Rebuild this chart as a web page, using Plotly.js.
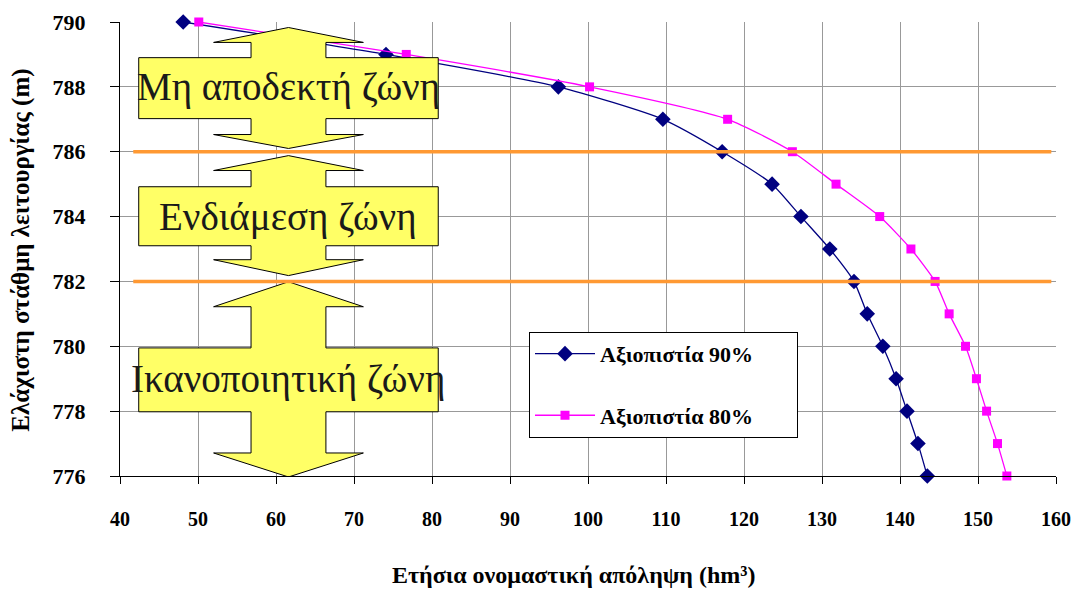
<!DOCTYPE html>
<html>
<head>
<meta charset="utf-8">
<script src="https://cdn.plot.ly/plotly-3.0.1.min.js"></script>
<style>html,body{margin:0;padding:0;background:#fff;}#chart{width:1072px;height:591px;}</style>
</head>
<body>
<div id="chart"></div>
<script>
// ---- data ----
const level = [790, 789, 788, 787, 786, 785, 784, 783, 782, 781, 780, 779, 778, 777, 776];
const rel90 = [48.1, 74.1, 96.2, 109.6, 117.2, 123.6, 127.3, 131.0, 134.1, 135.8, 137.8, 139.5, 140.9, 142.3, 143.5];
const rel80 = [50.1, 76.7, 100.2, 117.9, 126.2, 131.8, 137.4, 141.4, 144.5, 146.3, 148.4, 149.8, 151.1, 152.5, 153.7];
const seriesNames = ['Αξιοπιστία 90%', 'Αξιοπιστία 80%'];
const zoneLabels = ['Μη αποδεκτή ζώνη', 'Ενδιάμεση ζώνη', 'Ικανοποιητική ζώνη'];
const zoneLimits = [786, 782];
const xTitle = 'Ετήσια ονομαστική απόληψη (hm³)';
const yTitle = 'Ελάχιστη στάθμη λειτουργίας (m)';

// ---- arrow geometry (data units) ----
// [tipTop, headBaseTop, boxTop, boxBottom, headBaseBottom, tipBottom, labelY]
const arrowsY = [
  [789.83, 789.37, 788.90, 787.02, 786.53, 786.10, 788.0],
  [785.88, 785.42, 784.92, 783.10, 782.67, 782.18, 784.0],
  [781.99, 781.22, 779.95, 777.98, 776.71, 775.97, 779.0]
];
const cx = 61.6, headHalf = 9.6, shaftHalf = 4.8, boxHalf = 19.2;

function arrowPath(a) {
  const [t, hb1, bt, bb, hb2, b] = a;
  const p = [
    [cx, t], [cx + headHalf, hb1], [cx + shaftHalf, hb1], [cx + shaftHalf, bt],
    [cx + boxHalf, bt], [cx + boxHalf, bb], [cx + shaftHalf, bb], [cx + shaftHalf, hb2],
    [cx + headHalf, hb2], [cx, b], [cx - headHalf, hb2], [cx - shaftHalf, hb2],
    [cx - shaftHalf, bb], [cx - boxHalf, bb], [cx - boxHalf, bt], [cx - shaftHalf, bt],
    [cx - shaftHalf, hb1], [cx - headHalf, hb1]
  ];
  return 'M ' + p.map(q => q[0] + ',' + q[1]).join(' L ') + ' Z';
}

const serif = '"Liberation Serif", "DejaVu Serif", serif';
const pad = '\u00a0'.repeat(7);

const shapes = [];
arrowsY.forEach(a => {
  shapes.push({type: 'path', xref: 'x', yref: 'y', path: arrowPath(a),
    fillcolor: '#FFFF66', line: {color: '#000', width: 1}, layer: 'above'});
});
zoneLimits.forEach(v => {
  shapes.push({type: 'line', xref: 'x', yref: 'y', x0: 41.7, x1: 159.4, y0: v, y1: v,
    line: {color: '#FF9933', width: 3.5}, layer: 'above'});
});

const annotations = zoneLabels.map((t, i) => ({
  text: t, x: cx, y: arrowsY[i][6], xref: 'x', yref: 'y', showarrow: false,
  font: {family: serif, size: 39, color: '#1a1a1a'}
}));
annotations.push({text: '<b>' + xTitle + '</b>', xref: 'paper', yref: 'paper',
  x: (573 - 120) / 936, y: -(575 - 476) / 453.5, xanchor: 'center', yanchor: 'middle', showarrow: false,
  font: {family: serif, size: 24, color: '#000'}});
annotations.push({text: '<b>' + yTitle + '</b>', xref: 'paper', yref: 'paper',
  x: -(120 - 21) / 936, y: (476 - 251) / 453.5, xanchor: 'center', yanchor: 'middle', textangle: -90, showarrow: false,
  font: {family: serif, size: 25, color: '#000'}});

const traces = [
  {x: rel90, y: level, name: '<b>' + seriesNames[0] + '</b>' + pad, mode: 'lines+markers', type: 'scatter',
   line: {color: '#000080', width: 1.3, shape: 'spline', smoothing: 0.6},
   marker: {symbol: 'diamond', size: 12, color: '#000080'}, cliponaxis: false, legendgroup: 'a'},
  {x: rel80, y: level, name: '<b>' + seriesNames[1] + '</b>' + pad, mode: 'lines+markers', type: 'scatter',
   line: {color: '#FF00FF', width: 1.3, shape: 'spline', smoothing: 0.6},
   marker: {symbol: 'square', size: 9, color: '#FF00FF'}, cliponaxis: false, legendgroup: 'b'}
];

const layout = {
  width: 1072, height: 591,
  margin: {l: 120, r: 16, t: 22, b: 115},
  paper_bgcolor: '#fff', plot_bgcolor: '#fff',
  showlegend: true,
  legend: {x: (529 - 120) / 936, y: (476 - 332) / 453.5, xanchor: 'left', yanchor: 'top',
    bordercolor: '#000', borderwidth: 1, bgcolor: '#fff', traceorder: 'grouped',
    tracegroupgap: 30, itemwidth: 60,
    font: {family: serif, size: 22, color: '#000'}},
  xaxis: {range: [40, 160], dtick: 10, tick0: 40, showgrid: true, gridcolor: '#999', gridwidth: 1,
    showline: true, linecolor: '#000', linewidth: 1, ticks: 'outside', ticklen: 7, tickcolor: '#000',
    ticklabelstandoff: 18, ticklabeloverflow: 'allow', zeroline: false,
    tickfont: {family: serif, size: 20, color: '#000', weight: 'bold'}},
  yaxis: {range: [776, 790], dtick: 2, tick0: 776, showgrid: true, gridcolor: '#999', gridwidth: 1,
    showline: true, linecolor: '#000', linewidth: 1, ticks: 'outside', ticklen: 9, tickcolor: '#000',
    ticklabelstandoff: 20, ticklabeloverflow: 'allow', zeroline: false,
    tickfont: {family: serif, size: 22, color: '#000', weight: 'bold'}},
  shapes: shapes,
  annotations: annotations
};

Plotly.newPlot('chart', traces, layout, {displayModeBar: false, staticPlot: true});
</script>
</body>
</html>
